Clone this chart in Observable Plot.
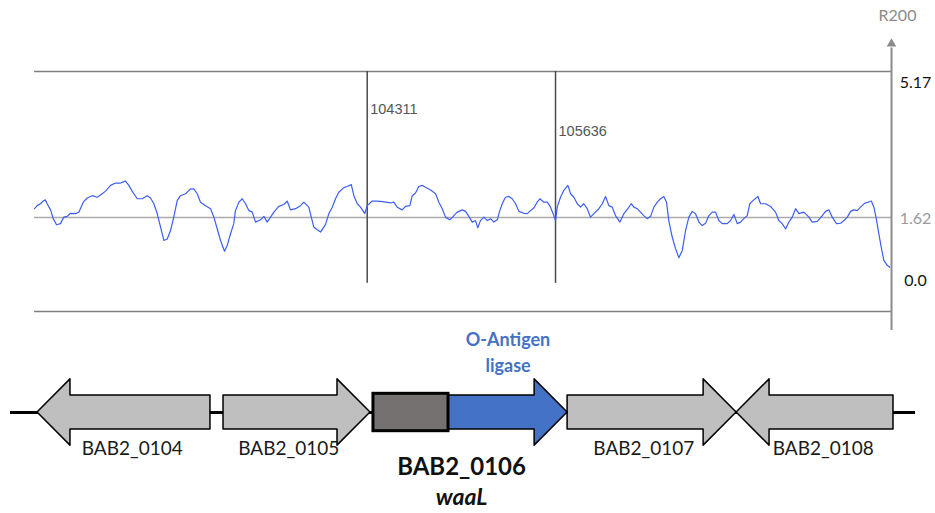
<!DOCTYPE html>
<html>
<head>
<meta charset="utf-8">
<script src="https://cdn.jsdelivr.net/npm/d3@7"></script>
<script src="https://cdn.jsdelivr.net/npm/@observablehq/plot@0.6"></script>
<style>
  body { margin: 0; background: #fff; }
  #chart { width: 935px; }
  #chart svg { display: block; overflow: visible; }
</style>
</head>
<body>
<div id="chart"></div>
<script>
// ---------- data ----------
// genomic position (bp) of each R200 sample
const positions = [
  101970,101989,102012,102031,102047,102059,102083,102102,102125,102153,
  102176,102200,102223,102259,102282,102313,102341,102376,102411,102439,
  102470,102505,102540,102575,102610,102634,102657,102693,102728,102763,
  102786,102810,102833,102857,102880,102904,102927,102950,102974,102997,
  103033,103068,103091,103115,103138,103173,103209,103232,103256,103279,
  103307,103326,103349,103372,103384,103408,103432,103455,103478,103502,
  103525,103560,103584,103607,103631,103654,103689,103724,103748,103771,
  103807,103842,103865,103900,103935,103959,103983,104018,104041,104065,
  104088,104111,104147,104170,104199,104217,104241,104264,104294,104311,
  104346,104370,104405,104440,104475,104498,104522,104557,104581,104611,
  104628,104651,104674,104698,104721,104757,104792,104815,104839,104862,
  104892,104921,104944,104980,105003,105026,105050,105073,105089,105108,
  105132,105156,105179,105202,105226,105244,105261,105284,105308,105331,
  105355,105378,105413,105437,105460,105483,105507,105526,105554,105578,
  105601,105624,105636,105648,105671,105695,105723,105742,105765,105789,
  105812,105835,105859,105882,105906,105941,105965,105988,106011,106035,
  106058,106089,106117,106145,106169,106187,106211,106234,106257,106281,
  106305,106328,106352,106375,106398,106417,106433,106457,106481,106504,
  106528,106551,106574,106598,106621,106645,106668,106692,106715,106739,
  106762,106785,106809,106844,106868,106891,106915,106938,106961,106985,
  107003,107031,107060,107079,107114,107149,107184,107207,107231,107255,
  107278,107302,107325,107348,107383,107419,107442,107478,107513,107536,
  107559,107583,107613,107642,107665,107689,107712,107735,107759,107782,
  107810,107834,107858,107876,107893,107911,107928,107946,107970,107988
];
// R200 value at each position
const r200 = [
  1.85,1.93,1.98,2.05,2.08,1.98,1.82,1.59,1.43,1.46,
  1.63,1.65,1.73,1.72,1.76,2.02,2.13,2.19,2.15,2.22,
  2.31,2.46,2.52,2.52,2.57,2.46,2.31,2.11,2.11,2.19,
  2.13,1.98,1.73,1.37,1.02,1.06,1.28,1.63,2.06,2.19,
  2.24,2.37,2.37,2.24,2.02,1.93,1.85,1.63,1.32,1.02,
  0.74,0.89,1.19,1.46,1.80,2.02,2.11,1.98,1.80,1.76,
  1.50,1.56,1.65,1.50,1.63,1.76,1.91,1.96,2.05,1.82,
  1.85,1.93,2.02,1.89,1.37,1.30,1.24,1.44,1.72,1.89,
  2.11,2.28,2.40,2.43,2.48,2.19,1.98,1.89,1.72,1.93,
  2.05,2.05,2.04,2.02,2.00,2.02,1.89,1.82,1.91,1.93,
  2.19,2.26,2.43,2.46,2.41,2.34,2.24,2.02,1.85,1.63,
  1.56,1.67,1.76,1.82,1.78,1.65,1.50,1.54,1.35,1.54,
  1.63,1.54,1.59,1.50,1.56,1.80,1.98,2.15,2.17,2.11,
  1.98,1.78,1.73,1.72,1.80,1.87,2.02,2.11,2.02,2.02,
  1.89,1.67,1.54,1.89,2.15,2.33,2.46,2.24,2.15,1.98,
  1.89,1.98,1.85,1.63,1.72,1.85,1.98,2.17,1.93,1.89,
  1.67,1.50,1.72,1.85,1.98,1.89,1.85,1.76,1.67,1.59,
  1.65,1.89,2.02,2.11,2.17,2.02,1.54,1.11,0.80,0.57,
  0.76,1.28,1.63,1.78,1.72,1.50,1.41,1.47,1.67,1.76,
  1.76,1.54,1.46,1.46,1.54,1.70,1.46,1.50,1.59,1.67,
  1.98,2.08,2.17,1.98,1.98,1.91,1.76,1.54,1.46,1.32,
  1.50,1.63,1.85,1.72,1.76,1.63,1.50,1.52,1.67,1.78,
  1.82,1.63,1.46,1.47,1.54,1.63,1.78,1.82,1.80,1.89,
  1.99,2.02,2.05,1.89,1.59,1.19,0.84,0.50,0.37,0.32
];
const yTicks = [5.17, 1.62, 0.0];
const yTickLabels = ["5.17", "1.62", "0.0"];
const yAxisTitle = "R200";
const refLine = 1.62;
const markers = [104311, 105636];
const markerLabels = ["104311", "105636"];

// gene map (bp): tail and tip of each arrow
const geneNames = ["BAB2_0104", "BAB2_0105", "BAB2_0106", "BAB2_0107", "BAB2_0108"];
const geneTail  = [103208, 103300, 104355, 105721, 108014];
const geneTip   = [101991, 104334, 105721, 106910, 106910];
const mainGene = "BAB2_0106";
const mainGeneAlias = "waaL";
const mainGeneFunction = ["O-Antigen", "ligase"];
const domainRange = [104355, 104883];
const backbone = [101801, 108169];

// ---------- layout constants ----------
const xDomain = [101970, 108000];
const yDomain = [-0.836, 5.435];
const font = "Lato, 'Open Sans', sans-serif";

// ---------- top: R200 profile ----------
const topPlot = Plot.plot({
  width: 935, height: 333,
  marginLeft: 34, marginRight: 44, marginTop: 71, marginBottom: 22,
  style: {background: "transparent", overflow: "visible"},
  x: {domain: xDomain, axis: null},
  y: {domain: yDomain, axis: null},
  marks: [
    Plot.ruleY([yDomain[1], yDomain[0]], {stroke: "#7f7f7f", strokeWidth: 1.5}),
    Plot.ruleY([refLine], {stroke: "#ababab", strokeWidth: 1.5}),
    Plot.ruleX(markers, {y1: yDomain[1], y2: -0.1, stroke: "#4a4a4a", strokeWidth: 1.5}),
    ...markerLabels.map((t, i) => Plot.text([t], {
      x: () => markers[i], frameAnchor: "top", dy: i === 0 ? 38 : 60, dx: 3,
      textAnchor: "start", lineAnchor: "middle",
      fontFamily: "'Liberation Sans', Arial, sans-serif", fontSize: 14.5, fill: "#555555"
    })),
    Plot.line(r200, {x: positions, y: d => d, stroke: "#3d5ef5", strokeWidth: 1.2, strokeLinejoin: "round"}),
    Plot.ruleX([xDomain[1]], {y1: -1.333, y2: 6.05, stroke: "#8c8c8c", strokeWidth: 2}),
    Plot.dot([xDomain[1]], {x: d => d, y: () => 6.16, symbol: "triangle", r: 3.6, fill: "#8c8c8c", stroke: "none"}),
    Plot.text(yTickLabels, {
      x: () => xDomain[1], y: (d, i) => yTicks[i], dx: 24, dy: 1,
      textAnchor: "middle", lineAnchor: "middle",
      fill: (d, i) => i === 1 ? "#9a9a9a" : "#111111",
      fontFamily: font, fontSize: 16
    }),
    Plot.text([yAxisTitle], {
      frameAnchor: "top-right", dx: 6, dy: -56, textAnchor: "middle", lineAnchor: "middle",
      fill: "#8a8a8a", fontFamily: font, fontSize: 16
    })
  ]
});

// ---------- bottom: gene map ----------
const bodyHalf = 1, headHalf = 1.95, headLen = 232;
function arrowPoints(name, tail, tip) {
  const dir = Math.sign(tip - tail);
  const hb = tip - dir * headLen;
  return [
    {name, x: tail, y1: -bodyHalf, y2: bodyHalf},
    {name, x: hb, y1: -bodyHalf, y2: bodyHalf},
    {name, x: hb, y1: -headHalf, y2: headHalf},
    {name, x: tip, y1: 0, y2: 0}
  ];
}
const otherPts = [], mainPts = [], labels = [];
geneNames.forEach((n, i) => {
  const pts = arrowPoints(n, geneTail[i], geneTip[i]);
  if (n === mainGene) mainPts.push(...pts); else otherPts.push(...pts);
  const dir = Math.sign(geneTip[i] - geneTail[i]);
  const hb = geneTip[i] - dir * headLen;
  const bodyMid = (geneTail[i] + hb) / 2, geneMid = (geneTail[i] + geneTip[i]) / 2;
  labels.push({name: n, x: (bodyMid + geneMid) / 2, mid: geneMid});
});
const mainIdx = geneNames.indexOf(mainGene);
const mainMid = labels[mainIdx].mid;
const funcX = (domainRange[1] + geneTip[mainIdx]) / 2;

const bottomPlot = Plot.plot({
  width: 935, height: 180,
  marginLeft: 34, marginRight: 44, marginTop: 28, marginBottom: 50,
  style: {background: "transparent", overflow: "visible"},
  x: {domain: xDomain, axis: null},
  y: {domain: [-3, 3], axis: null},
  marks: [
    Plot.ruleY([0], {x1: backbone[0], x2: backbone[1], stroke: "#000", strokeWidth: 3}),
    Plot.area(otherPts, {x1: "x", y1: "y1", y2: "y2", z: "name", fill: "#bfbfbf", stroke: "#000", strokeWidth: 1.5, curve: "linear"}),
    Plot.area(mainPts, {x1: "x", y1: "y1", y2: "y2", z: "name", fill: "#4472c4", stroke: "#000", strokeWidth: 1.5, curve: "linear"}),
    Plot.rect([domainRange], {x1: d => d[0], x2: d => d[1], y1: -1.1, y2: 1.1, fill: "#767171", stroke: "#000", strokeWidth: 3}),
    Plot.text(labels.filter(d => d.name !== mainGene), {
      x: "x", y: () => -2.12, text: "name", fontFamily: font, fontSize: 19, fill: "#1a1a1a"
    }),
    Plot.text([mainGene], {x: () => mainMid, y: () => -3.24, dx: -9, fontFamily: font, fontSize: 24, fontWeight: "bold", fill: "#111"}),
    Plot.text([mainGeneAlias], {x: () => mainMid, y: () => -5.0, dx: -9, fontFamily: font, fontSize: 23, fontWeight: "bold", fontStyle: "italic", fill: "#111"}),
    Plot.text(mainGeneFunction, {x: () => funcX, y: (d, i) => i === 0 ? 4.24 : 2.71, fontFamily: font, fontSize: 18, fontWeight: "bold", fill: "#4472c4"})
  ]
});

const root = document.getElementById("chart");
root.appendChild(topPlot);
root.appendChild(bottomPlot);
</script>
</body>
</html>
